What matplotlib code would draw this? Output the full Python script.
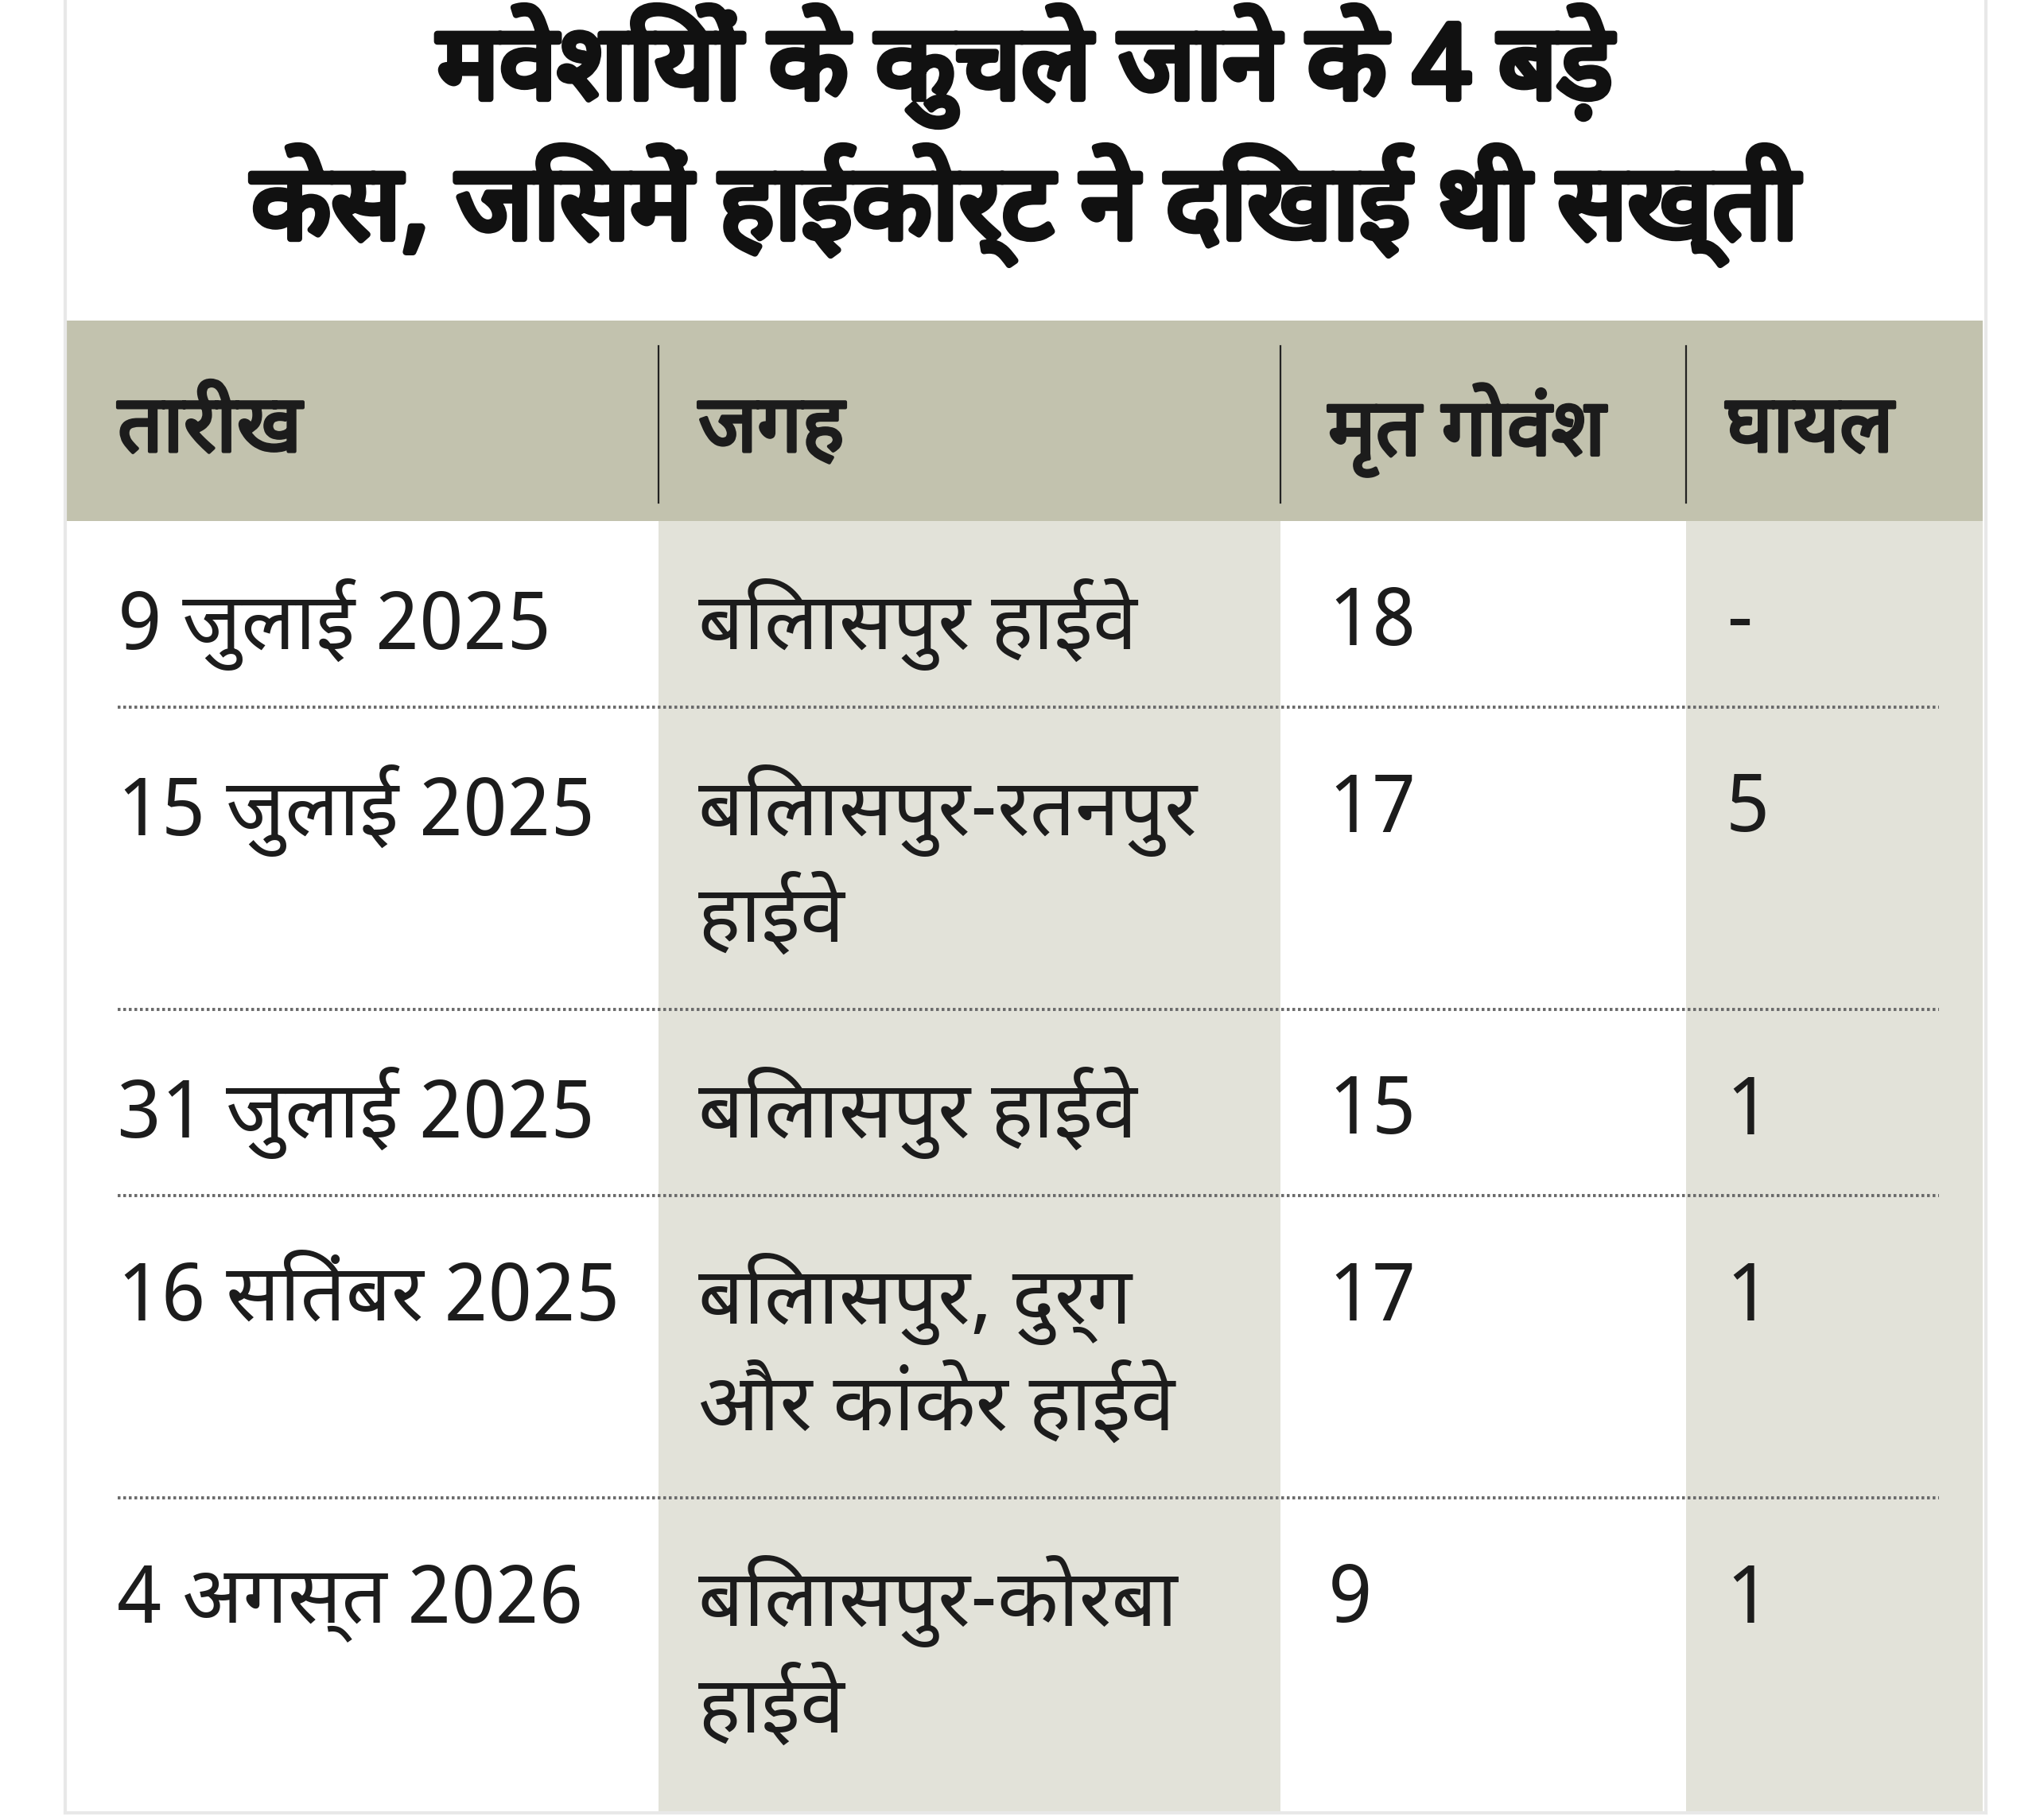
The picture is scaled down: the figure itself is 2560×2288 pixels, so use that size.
import matplotlib
matplotlib.use('Agg')
import matplotlib.pyplot as plt
import matplotlib.patheffects as pe
from matplotlib import font_manager, ft2font

# table content
title_lines = ['मवेशियों के कुचले जाने के 4 बड़े', 'केस, जिसमें हाईकोर्ट ने दिखाई थी सख्ती']
headers = ['तारीख', 'जगह', 'मृत गोवंश', 'घायल']
dates = ['9 जुलाई 2025', '15 जुलाई 2025', '31 जुलाई 2025', '16 सितंबर 2025', '4 अगस्त 2026']
places = ['बिलासपुर हाईवे', 'बिलासपुर-रतनपुर\nहाईवे', 'बिलासपुर हाईवे',
          'बिलासपुर, दुर्ग\nऔर कांकेर हाईवे', 'बिलासपुर-कोरबा\nहाईवे']
dead = ['18', '17', '15', '17', '9']
injured = ['-', '5', '1', '1', '1']


def fonts_with(ch):
    found = []
    for fe in font_manager.fontManager.ttflist:
        if fe.name in found:
            continue
        try:
            cmap = ft2font.FT2Font(fe.fname).get_charmap()
        except Exception:
            continue
        if ord(ch) in cmap:
            found.append(fe.name)
    return found


deva = fonts_with('क')
deva.sort(key=lambda n: (0 if 'Noto Sans Devanagari' in n else 1 if 'Devanagari' in n else 2, n))
fam = deva[:2] + ['DejaVu Sans']

W, H = 2560, 2288
fig = plt.figure(figsize=(W / 100, H / 100), dpi=100)
ax = fig.add_axes([0, 0, 1, 1])
ax.set_xlim(0, W)
ax.set_ylim(H, 0)
ax.axis('off')

header_c = '#c2c2ae'
shade_c = '#e2e2d9'
text_c = '#1c1c1c'

col_edges = [82, 828, 1610, 2120, 2493]
col_pad = [66, 50, 60, 50]
head_top, head_bot = 403, 655
line_h = 136
first_off = 130
card_right = 2497

# row layout from number of text lines in each place
row_tops = [head_bot]
for i, p in enumerate(places):
    n = p.count('\n') + 1
    h = 234 + 146 * (n - 1)
    if i == len(places) - 1:
        h += 16
    row_tops.append(row_tops[-1] + h)
body_bot = row_tops[-1]

# shaded columns
for c in (1, 3):
    ax.add_patch(plt.Rectangle((col_edges[c], head_bot), col_edges[c + 1] - col_edges[c],
                               body_bot - head_bot, color=shade_c, lw=0, zorder=1))
# header band
ax.add_patch(plt.Rectangle((col_edges[0], head_top), col_edges[-1] - col_edges[0],
                           head_bot - head_top, color=header_c, lw=0, zorder=1))
for x in col_edges[1:-1]:
    ax.plot([x, x], [435, 632], color='#222222', lw=1.6, zorder=2)

# card border
ax.plot([col_edges[0], col_edges[0]], [0, body_bot], color='#e8e8e8', lw=3, zorder=3)
ax.plot([card_right, card_right], [0, body_bot], color='#e8e8e8', lw=3, zorder=3)
ax.plot([col_edges[0], card_right], [body_bot, body_bot], color='#e8e8e8', lw=3, zorder=3)

# title (stroke makes the glyphs heavier)
cx = (col_edges[0] + card_right) / 2
for i, t in enumerate(title_lines):
    ax.text(cx, 124 + 176 * i, t, ha='center', va='baseline', fontsize=94,
            fontweight='bold', color='#111111', family=fam, zorder=4,
            path_effects=[pe.withStroke(linewidth=6, foreground='#111111')])

# header text
for c, h in enumerate(headers):
    ax.text(col_edges[c] + col_pad[c], 541, h, ha='left', va='center', fontsize=72,
            fontweight='bold', color=text_c, family=fam, zorder=4,
            path_effects=[pe.withStroke(linewidth=3, foreground=text_c)])

# body rows
for r in range(len(dates)):
    y0 = row_tops[r] + first_off
    cells = [dates[r], places[r], dead[r], injured[r]]
    for c, val in enumerate(cells):
        for k, ln in enumerate(val.split('\n')):
            ax.text(col_edges[c] + col_pad[c], y0 + k * line_h, ln, ha='left', va='center',
                    fontsize=72, color=text_c, family=fam, zorder=4)
    if r < len(dates) - 1:
        ax.plot([148, 2438], [row_tops[r + 1], row_tops[r + 1]], color='#6a6a6a', lw=2.8,
                linestyle=(0, (0.9, 0.9)), zorder=3)

fig.savefig('out.png', dpi=100, facecolor='white')
